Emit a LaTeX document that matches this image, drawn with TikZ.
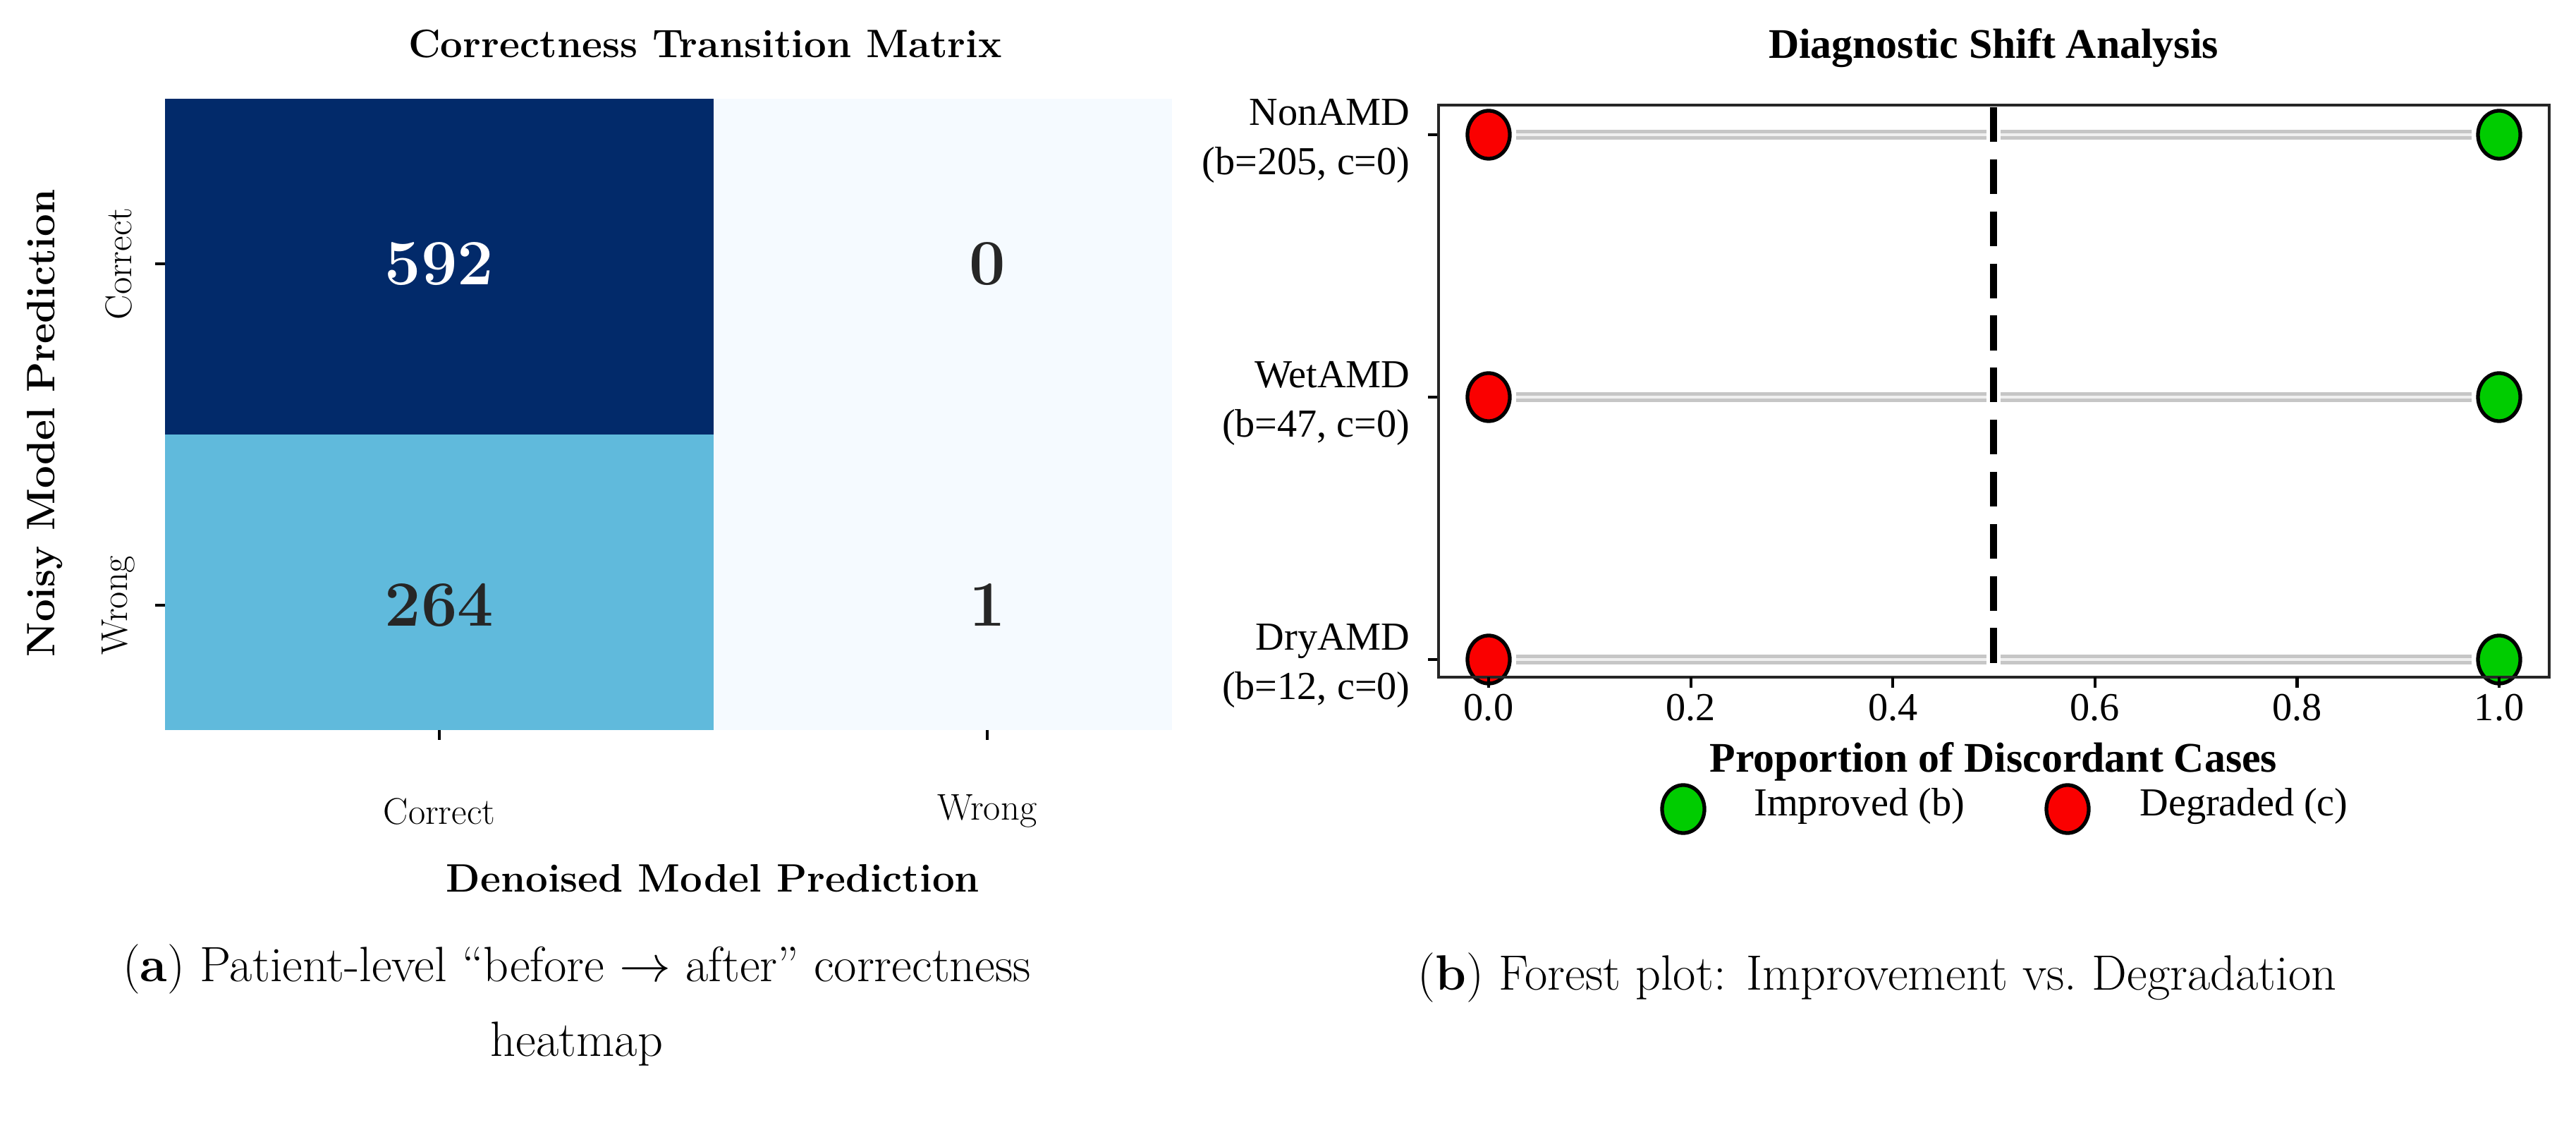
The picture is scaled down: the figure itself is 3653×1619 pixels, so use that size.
\documentclass[tikz,border=0pt]{standalone}
\usepackage{fontspec}
\usetikzlibrary{shapes.geometric}
\newfontfamily\tms{Liberation Serif}
\definecolor{navy}{RGB}{2,42,106}
\definecolor{midblue}{RGB}{96,186,220}
\definecolor{paleblue}{RGB}{245,250,255}
\definecolor{darktxt}{RGB}{38,38,38}
\definecolor{dotred}{RGB}{250,0,0}
\definecolor{dotgreen}{RGB}{0,204,0}
\begin{document}
\begin{tikzpicture}[x=0.01cm,y=-0.01cm,
  num/.style={font=\fontsize{26}{30}\selectfont\bfseries},
  tlab/.style={font=\fontsize{15}{18}\selectfont},
  axlab/.style={font=\fontsize{16}{19}\selectfont\bfseries},
  rlab/.style={font=\tms\fontsize{16}{20}\selectfont, align=right, anchor=east},
  rtick/.style={font=\tms\fontsize{16}{19}\selectfont},
  caplab/.style={font=\fontsize{20}{30}\selectfont},
  dotr/.style={ellipse, draw=black, line width=1.5pt, fill=dotred, minimum width=0.6cm, minimum height=0.68cm, inner sep=0},
  dotg/.style={ellipse, draw=black, line width=1.5pt, fill=dotgreen, minimum width=0.6cm, minimum height=0.68cm, inner sep=0},
  gline/.style={draw=gray!45, line width=1.2pt, double=gray!12, double distance=1.4pt},
  tickl/.style={line width=1.2pt, black}
]
\useasboundingbox (0,0) rectangle (3653,1619);
% ---------- left heatmap ----------
\node[axlab] (ltitle) at (1000,62) {Correctness Transition Matrix};
\fill[navy] (234,140) rectangle (1012,616);
\fill[midblue] (234,616) rectangle (1012,1035);
\fill[paleblue] (1012,140) rectangle (1662,616);
\fill[paleblue] (1012,616) rectangle (1662,1035);
\node[num, white] (c11) at (623,374) {592};
\node[num, darktxt] (c12) at (1400,374) {0};
\node[num, darktxt] (c21) at (623,858) {264};
\node[num, darktxt] (c22) at (1400,858) {1};
\draw[tickl] (220,374) -- (234,374);
\draw[tickl] (220,858) -- (234,858);
\draw[tickl] (623,1035) -- (623,1049);
\draw[tickl] (1400,1035) -- (1400,1049);
\node[tlab, rotate=90] (yt1) at (168,374) {Correct};
\node[tlab, rotate=90] (yt2) at (168,858) {Wrong};
\node[tlab] (xt1) at (623,1150) {Correct};
\node[tlab] (xt2) at (1400,1150) {Wrong};
\node[axlab] (xl) at (1011,1245) {Denoised Model Prediction};
\node[axlab, rotate=90] (yl) at (64,600) {Noisy Model Prediction};
\node[caplab, align=center] (capa) at (818,1425) {(\textbf{a}) Patient-level ``before $\rightarrow$ after'' correctness\\heatmap};
% ---------- right forest plot ----------
\node[font=\tms\fontsize{17}{20}\selectfont\bfseries] (rtitle) at (2827,68) {Diagnostic Shift Analysis};
\foreach \y/\n in {191/1,563/2,935/3}{
  \draw[gline] (2150,\y) -- (2817,\y);
  \draw[gline] (2837,\y) -- (3505,\y);
  \node[dotr] (red\n) at (2111,\y) {};
  \node[dotg] (grn\n) at (3544,\y) {};
  \draw[tickl] (2025,\y) -- (2040,\y);
}
\draw[line width=3pt, dash pattern=on 14pt off 7pt] (2827,152) -- (2827,958);
\draw[line width=1.3pt, black!85] (2040,149) rectangle (3615,960);
\foreach \k/\t in {0/0.0,1/0.2,2/0.4,3/0.6,4/0.8,5/1.0}{
  \draw[tickl] ({2111+286.6*\k},960) -- ({2111+286.6*\k},975);
  \node[rtick] at ({2111+286.6*\k},1003) {\t};
}
\node[rlab] (l1) at (2012,200) {NonAMD\\(b=205, c=0)};
\node[rlab] (l2) at (2012,572) {WetAMD\\(b=47, c=0)};
\node[rlab] (l3) at (2012,944) {DryAMD\\(b=12, c=0)};
\node[font=\tms\fontsize{17}{20}\selectfont\bfseries] (rxl) at (2827,1080) {Proportion of Discordant Cases};
\node[dotg] (lg1) at (2387,1147) {};
\node[rtick, anchor=west] (lt1) at (2475,1143) {Improved (b)};
\node[dotr] (lg2) at (2932,1147) {};
\node[rtick, anchor=west] (lt2) at (3022,1143) {Degraded (c)};
\node[caplab] (capb) at (2662,1386) {(\textbf{b}) Forest plot: Improvement vs.\ Degradation};
\end{tikzpicture}
\end{document}
